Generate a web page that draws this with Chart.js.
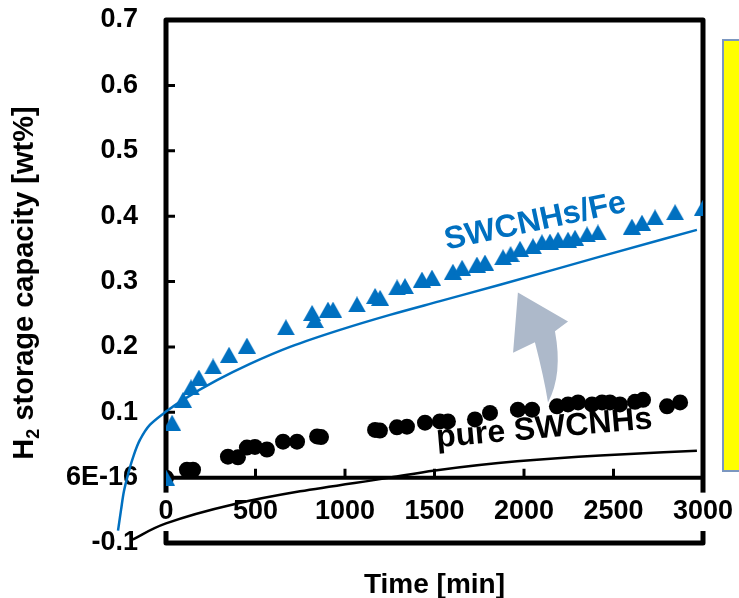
<!DOCTYPE html>
<html>
<head>
<meta charset="utf-8">
<script src="https://cdn.jsdelivr.net/npm/chart.js@4.4.1/dist/chart.umd.min.js"></script>
<style>
  html, body { margin: 0; padding: 0; background: #fff; }
</style>
</head>
<body>
<canvas id="chart" width="739" height="598"></canvas>
<script>
// SWCNHs/Fe measured points (triangles)
const feTime = [0, 34, 95, 140, 184, 263, 352, 452, 670, 816, 832, 905, 933, 1067, 1168, 1196, 1291, 1335, 1430, 1486,
  1603, 1654, 1737, 1782, 1883, 1925, 1978, 2050, 2100, 2145, 2190, 2246, 2285, 2352, 2413, 2603, 2659, 2732, 2844, 3000];
const feValue = [0, 0.084, 0.119, 0.138, 0.153, 0.170, 0.188, 0.202, 0.230, 0.252, 0.241, 0.257, 0.257, 0.265, 0.278, 0.275, 0.291, 0.293, 0.303, 0.306,
  0.315, 0.321, 0.326, 0.329, 0.337, 0.342, 0.350, 0.354, 0.360, 0.361, 0.364, 0.364, 0.367, 0.372, 0.375, 0.384, 0.390, 0.398, 0.406, 0.413];

// pure SWCNHs measured points (circles)
const pureTime = [0, 117, 151, 346, 402, 452, 497, 564, 654, 732, 844, 866, 1168, 1195, 1290, 1346, 1447, 1530, 1575, 1726, 1810,
  1966, 2045, 2184, 2246, 2302, 2380, 2436, 2480, 2536, 2620, 2665, 2799, 2872];
const pureValue = [0, 0.012, 0.012, 0.032, 0.031, 0.046, 0.047, 0.043, 0.055, 0.055, 0.063, 0.062, 0.073, 0.072, 0.077, 0.078, 0.084, 0.086, 0.086, 0.089, 0.099,
  0.104, 0.104, 0.109, 0.112, 0.115, 0.112, 0.115, 0.115, 0.112, 0.116, 0.119, 0.109, 0.115];

// fitted curves (they run past the left edge)
const feFitTime = [-268, -251, -235, -212, -184, -145, -89, 0, 95, 285, 469, 693, 972, 1251, 1531, 1866, 2425, 2966];
const feFitValue = [-0.081, -0.049, -0.021, 0.005, 0.031, 0.058, 0.081, 0.101, 0.119, 0.149, 0.174, 0.200, 0.226, 0.249, 0.270, 0.295, 0.338, 0.379];
const pureFitTime = [-190, 0, 374, 749, 1251, 1503, 1961, 2425, 2966];
const pureFitValue = [-0.095, -0.070, -0.041, -0.021, 0.0, 0.011, 0.025, 0.034, 0.041];

// axis tick labels
const xTickLabels = ['0', '500', '1000', '1500', '2000', '2500', '3000'];
const yTickLabels = ['-0.1', '6E-16', '0.1', '0.2', '0.3', '0.4', '0.5', '0.6', '0.7'];

const FONT = "'Liberation Sans', Arial, sans-serif";
const BLUE = '#0070c0';

function pts(xs, ys) {
  return xs.map((x, i) => ({ x: x, y: ys[i] }));
}

// triangle marker, centred on its box like the original
function makeTriangle(w, h, color) {
  const c = document.createElement('canvas');
  c.width = w; c.height = h;
  const g = c.getContext('2d');
  g.fillStyle = color;
  g.beginPath();
  g.moveTo(w / 2, 0);
  g.lineTo(w, h);
  g.lineTo(0, h);
  g.closePath();
  g.fill();
  return c;
}

// gray curved arrow, in data units
const arrow = {
  apex: [1966, 0.283], baseR: [2246, 0.239], attachR: [2173, 0.224], ctrlR: [2218, 0.158],
  tail: [2134, 0.115], ctrlL: [2112, 0.153], attachL: [2061, 0.207], baseL: [1939, 0.191]
};

const frame = {
  id: 'frame',
  beforeDraw(chart) {
    const { ctx, chartArea: a, scales: { x, y } } = chart;
    ctx.save();
    // yellow box on the right (cut off by the picture edge)
    ctx.fillStyle = '#ffff00';
    ctx.fillRect(a.right + 20, a.top + 20, 40, 431);
    ctx.strokeStyle = '#7b97c0';
    ctx.lineWidth = 2;
    ctx.strokeRect(a.right + 20, a.top + 20, 40, 431);

    // plot box
    ctx.strokeStyle = '#000';
    ctx.lineJoin = 'round';
    ctx.lineWidth = 5;
    ctx.strokeRect(a.left, a.top, a.right - a.left, a.bottom - a.top);

    // x axis line at y = 0
    const y0 = y.getPixelForValue(0);
    ctx.lineWidth = 4;
    ctx.beginPath();
    ctx.moveTo(a.left, y0);
    ctx.lineTo(a.right, y0);
    ctx.stroke();

    // inward ticks
    ctx.lineWidth = 3;
    ctx.beginPath();
    y.ticks.forEach(t => {
      if (t.value > 0.05 && t.value < 0.65) {
        const py = y.getPixelForValue(t.value);
        ctx.moveTo(a.left, py);
        ctx.lineTo(a.left + 9, py);
      }
    });
    x.ticks.forEach(t => {
      if (t.value > 0 && t.value < 3000) {
        const px = x.getPixelForValue(t.value);
        ctx.moveTo(px, y0);
        ctx.lineTo(px, y0 - 9);
      }
    });
    ctx.stroke();
    ctx.restore();
  },
  beforeDatasetsDraw(chart) {
    const { ctx, scales: { x, y } } = chart;
    const P = p => [x.getPixelForValue(p[0]), y.getPixelForValue(p[1])];
    ctx.save();
    ctx.fillStyle = '#adb9ca';
    ctx.beginPath();
    ctx.moveTo(...P(arrow.baseL));
    ctx.lineTo(...P(arrow.apex));
    ctx.lineTo(...P(arrow.baseR));
    ctx.lineTo(...P(arrow.attachR));
    ctx.quadraticCurveTo(...P(arrow.ctrlR), ...P(arrow.tail));
    ctx.quadraticCurveTo(...P(arrow.ctrlL), ...P(arrow.attachL));
    ctx.closePath();
    ctx.fill();
    ctx.restore();
  },
  afterDatasetsDraw(chart) {
    const { ctx, chartArea: a, scales: { x, y } } = chart;
    ctx.save();
    // curve labels
    ctx.textAlign = 'center';
    ctx.textBaseline = 'alphabetic';
    ctx.font = 'bold 32px ' + FONT;
    ctx.save();
    ctx.translate(x.getPixelForValue(2073), y.getPixelForValue(0.378));
    ctx.rotate(-12 * Math.PI / 180);
    ctx.fillStyle = BLUE;
    ctx.fillText('SWCNHs/Fe', 0, 0);
    ctx.restore();
    ctx.save();
    ctx.translate(x.getPixelForValue(2117), y.getPixelForValue(0.061));
    ctx.rotate(-5 * Math.PI / 180);
    ctx.fillStyle = '#000';
    ctx.fillText('pure SWCNHs', 0, 0);
    ctx.restore();

    // axis titles
    ctx.fillStyle = '#000';
    ctx.font = 'bold 28px ' + FONT;
    ctx.fillText('Time [min]', (a.left + a.right) / 2, 593);

    const bigFont = 'bold 29px ' + FONT;
    const subFont = 'bold 18px ' + FONT;
    const rest = ' storage capacity [wt%]';
    ctx.font = bigFont;
    const wH = ctx.measureText('H').width;
    const wRest = ctx.measureText(rest).width;
    ctx.font = subFont;
    const w2 = ctx.measureText('2').width;
    const total = wH + w2 + wRest;
    ctx.translate(33, 283);
    ctx.rotate(-Math.PI / 2);
    ctx.textAlign = 'left';
    let cx = -total / 2;
    ctx.font = bigFont;
    ctx.fillText('H', cx, 0);
    cx += wH;
    ctx.font = subFont;
    ctx.fillText('2', cx, 6);
    cx += w2;
    ctx.font = bigFont;
    ctx.fillText(rest, cx, 0);
    ctx.restore();
  }
};

new Chart(document.getElementById('chart'), {
  type: 'scatter',
  data: {
    datasets: [
      {
        label: 'SWCNHs/Fe',
        data: pts(feTime, feValue),
        pointStyle: makeTriangle(18, 16, BLUE),
        pointRadius: 9,
        backgroundColor: BLUE,
        borderColor: BLUE
      },
      {
        label: 'pure SWCNHs',
        data: pts(pureTime, pureValue),
        pointStyle: 'circle',
        pointRadius: 8,
        borderWidth: 0,
        backgroundColor: '#000',
        borderColor: '#000'
      },
      {
        label: 'SWCNHs/Fe fit',
        data: pts(feFitTime, feFitValue),
        indexAxis: 'y',
        showLine: true,
        pointRadius: 0,
        borderColor: BLUE,
        borderWidth: 2.5,
        cubicInterpolationMode: 'monotone',
        clip: false
      },
      {
        label: 'pure SWCNHs fit',
        data: pts(pureFitTime, pureFitValue),
        indexAxis: 'y',
        showLine: true,
        pointRadius: 0,
        borderColor: '#000',
        borderWidth: 2.5,
        cubicInterpolationMode: 'monotone',
        clip: false
      }
    ]
  },
  options: {
    responsive: false,
    animation: false,
    events: [],
    layout: { padding: { left: 0, top: 20, right: 36, bottom: 55 } },
    plugins: {
      legend: { display: false },
      tooltip: { enabled: false }
    },
    scales: {
      x: {
        type: 'linear',
        position: { y: 0 },
        min: 0,
        max: 3000,
        grid: { display: false, drawTicks: true, tickLength: 18 },
        border: { display: false },
        ticks: {
          stepSize: 500,
          padding: 0,
          color: '#000',
          font: { family: FONT, size: 27, weight: 'bold' },
          showLabelBackdrop: true,
          backdropColor: '#fff',
          backdropPadding: 3,
          maxRotation: 0,
          callback: (v, i) => xTickLabels[i]
        }
      },
      y: {
        type: 'linear',
        position: 'left',
        min: -0.1,
        max: 0.7,
        grid: { display: false, drawTicks: true, tickLength: 28 },
        border: { display: false },
        afterFit: scale => { scale.width = 166; },
        ticks: {
          stepSize: 0.1,
          padding: 0,
          color: '#000',
          font: { family: FONT, size: 27, weight: 'bold' },
          callback: (v, i) => yTickLabels[i]
        }
      }
    }
  },
  plugins: [frame]
});
</script>
</body>
</html>
